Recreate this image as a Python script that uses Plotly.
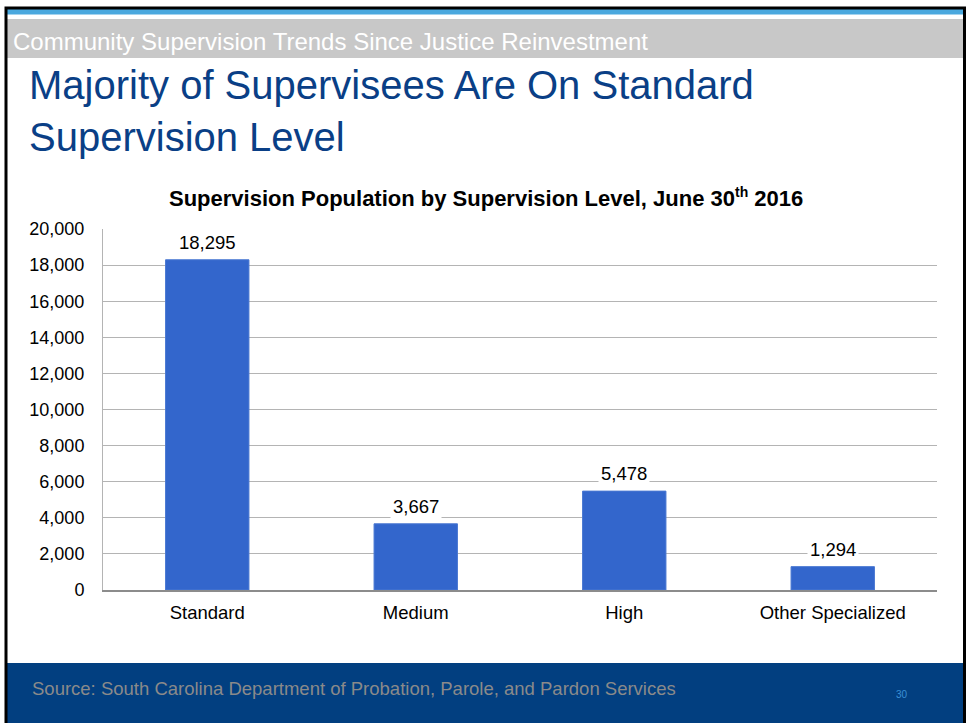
import plotly.graph_objects as go

categories = ["Standard", "Medium", "High", "Other Specialized"]
values = [18295, 3667, 5478, 1294]
y_ticks = list(range(0, 20001, 2000))

W, H = 968, 723
L, R, T, B = 103, 937, 229, 590  # plot area in pixels


def px(x):
    return (x - L) / (R - L)


def py(y):
    return (B - y) / (B - T)


fig = go.Figure()
fig.add_trace(go.Bar(
    x=categories, y=values, width=0.4,
    marker=dict(color="#3366CC", line=dict(color="#4a78d2", width=1)),
    hoverinfo="skip",
))

shapes = []
# frame
shapes.append(dict(type="rect", xref="paper", yref="paper",
                   x0=px(6), x1=px(964.5), y0=py(740), y1=py(8),
                   line=dict(color="black", width=3), fillcolor="rgba(0,0,0,0)", layer="above"))
# top blue strip
shapes.append(dict(type="rect", xref="paper", yref="paper",
                   x0=px(7), x1=px(963), y0=py(14.5), y1=py(9),
                   line=dict(width=0), fillcolor="#4aa8de", layer="below"))
# grey header band
shapes.append(dict(type="rect", xref="paper", yref="paper",
                   x0=px(7), x1=px(963), y0=py(58), y1=py(19),
                   line=dict(width=0), fillcolor="#c8c8c8", layer="below"))
# footer band
shapes.append(dict(type="rect", xref="paper", yref="paper",
                   x0=px(7), x1=px(963), y0=py(740), y1=py(663),
                   line=dict(width=0), fillcolor="#023f80", layer="below"))

annotations = []
annotations.append(dict(xref="paper", yref="paper", x=px(11), y=py(41),
                        xanchor="left", yanchor="middle", showarrow=False,
                        text="Community Supervision Trends Since Justice Reinvestment",
                        font=dict(family="Liberation Sans Narrow, Arial Narrow, Arial", size=24, color="white")))
annotations.append(dict(xref="paper", yref="paper", x=px(27), y=py(111),
                        xanchor="left", yanchor="middle", showarrow=False, align="left",
                        text="Majority of Supervisees Are On Standard<br>Supervision Level",
                        font=dict(family="Arial, Liberation Sans", size=40, color="#0a3f86")))
annotations.append(dict(xref="paper", yref="paper", x=px(486), y=py(198),
                        xanchor="center", yanchor="middle", showarrow=False,
                        text="<b>Supervision Population by Supervision Level, June 30"
                             "<sup><span style='font-size:14px'>th</span></sup> 2016</b>",
                        font=dict(family="Arial, Liberation Sans", size=22, color="black")))
annotations.append(dict(xref="paper", yref="paper", x=px(30), y=py(688),
                        xanchor="left", yanchor="middle", showarrow=False,
                        text="Source: South Carolina Department of Probation, Parole, and Pardon Services",
                        font=dict(family="Arial, Liberation Sans", size=18.5, color="#8a8a8a")))
annotations.append(dict(xref="paper", yref="paper", x=px(902), y=py(694),
                        xanchor="center", yanchor="middle", showarrow=False,
                        text="30",
                        font=dict(family="Arial, Liberation Sans", size=10, color="#3a8fd6")))
for c, v in zip(categories, values):
    annotations.append(dict(x=c, y=v, xref="x", yref="y", yanchor="bottom",
                            yshift=4, showarrow=False, text=f"{v:,}",
                            bgcolor="white", borderpad=2,
                            font=dict(family="Arial, Liberation Sans", size=18.5, color="black")))

fig.update_layout(
    width=W, height=H,
    margin=dict(l=L, r=W - R, t=T, b=H - B, pad=0),
    paper_bgcolor="white", plot_bgcolor="white",
    showlegend=False, bargap=0.6,
    shapes=shapes, annotations=annotations,
    font=dict(family="Arial, Liberation Sans", size=18, color="black"),
)
fig.update_yaxes(range=[0, 20000], tickvals=y_ticks, tickformat=",",
                 showgrid=True, gridcolor="#b4b4b4", gridwidth=1,
                 showline=True, linecolor="#b4b4b4", linewidth=1,
                 zeroline=False, ticks="", ticklabelstandoff=14,
                 tickfont=dict(size=18, color="black"))
fig.update_xaxes(showline=True, linecolor="#8c8c8c", linewidth=1.5,
                 ticks="", ticklabelstandoff=5,
                 tickfont=dict(size=18.5, color="black"))

fig.write_html(
    "out.html",
    config={"displayModeBar": False},
    post_script="document.body.style.margin='0px';document.body.style.overflow='hidden';",
)
